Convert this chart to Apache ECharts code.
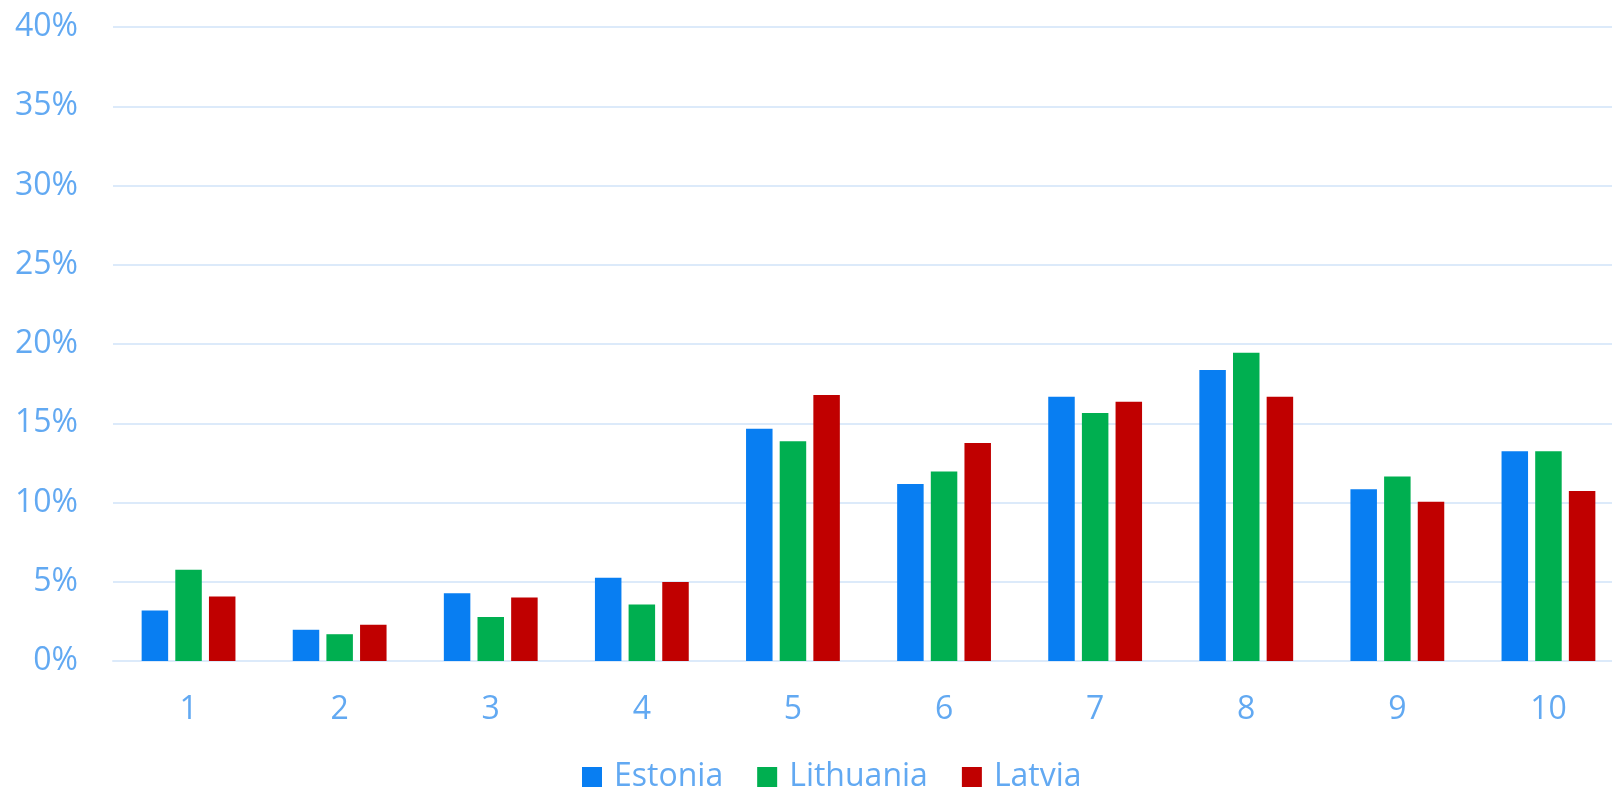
<!DOCTYPE html>
<html>
<head>
<meta charset="utf-8">
<script src="https://cdn.jsdelivr.net/npm/echarts@6/dist/echarts.min.js"></script>
<style>
html,body{margin:0;padding:0;background:#fff;}
#chart{width:1612px;height:792px;}
</style>
</head>
<body>
<div id="chart"></div>
<script>
const categories = ['1','2','3','4','5','6','7','8','9','10'];
const estonia   = [3.18, 1.97, 4.27, 5.25, 14.65, 11.16, 16.67, 18.36, 10.84, 13.23];
const lithuania = [5.76, 1.69, 2.78, 3.57, 13.86, 11.95, 15.64, 19.45, 11.64, 13.23];
const latvia    = [4.07, 2.29, 4.01, 4.99, 16.78, 13.76, 16.35, 16.67, 10.05, 10.72];
const seriesNames = ['Estonia','Lithuania','Latvia'];
const colors = ['#087EF2','#00AF50','#C00000'];
const textColor = '#62A9F2';
const gridColor = '#DCEAFA';
const font = '"Open Sans", "Noto Sans", sans-serif';

const chart = echarts.init(document.getElementById('chart'));
const mk = (name, data, color) => ({
  name, type: 'bar', data,
  barWidth: 26.5, barGap: '27%',
  itemStyle: { color },
  emphasis: { disabled: true }
});
chart.setOption({
  animation: false,
  color: colors,
  grid: { left: 113, width: 1511, top: 27, bottom: 131, containLabel: false, outerBoundsMode: 'none' },
  legend: {
    data: seriesNames,
    left: 577, top: 756,
    itemWidth: 20, itemHeight: 20, itemGap: 34,
    icon: 'rect',
    textStyle: { color: textColor, fontSize: 32, fontFamily: font, padding: [0,0,0,7] }
  },
  xAxis: {
    type: 'category', data: categories,
    axisLine: { show: true, lineStyle: { color: gridColor, width: 2 } },
    axisTick: { show: false },
    axisLabel: { color: textColor, fontSize: 32, fontFamily: font, margin: 33 }
  },
  yAxis: {
    type: 'value', min: 0, max: 40, interval: 5,
    axisLine: { show: false }, axisTick: { show: false },
    axisLabel: { color: textColor, fontSize: 32, fontFamily: font, margin: 35, formatter: '{value}%' },
    splitLine: { lineStyle: { color: gridColor, width: 2 } }
  },
  series: [
    mk(seriesNames[0], estonia, colors[0]),
    mk(seriesNames[1], lithuania, colors[1]),
    mk(seriesNames[2], latvia, colors[2])
  ]
});
</script>
</body>
</html>
